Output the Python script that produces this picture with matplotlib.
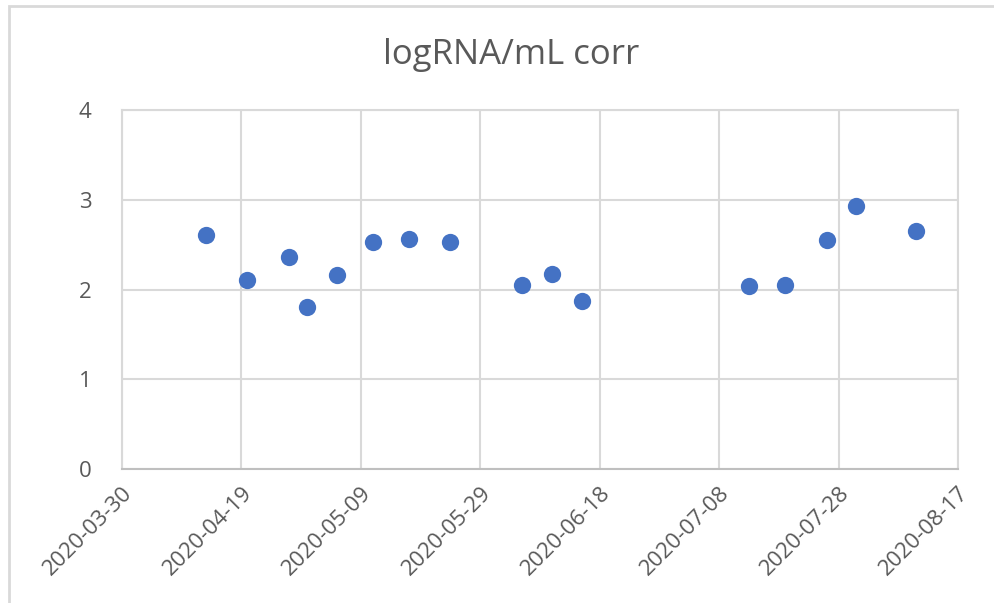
import matplotlib
matplotlib.use("Agg")
import matplotlib.pyplot as plt
import matplotlib.dates as mdates
from matplotlib.patches import Rectangle
import pandas as pd

dates = ["2020-04-13", "2020-04-20", "2020-04-27", "2020-04-30", "2020-05-05",
         "2020-05-11", "2020-05-17", "2020-05-24", "2020-06-05", "2020-06-10",
         "2020-06-15", "2020-07-13", "2020-07-19", "2020-07-26", "2020-07-31",
         "2020-08-10"]
log_rna = [2.61, 2.11, 2.36, 1.80, 2.16, 2.53, 2.56, 2.53, 2.05, 2.17,
           1.87, 2.04, 2.05, 2.55, 2.93, 2.65]
tick_dates = ["2020-03-30", "2020-04-19", "2020-05-09", "2020-05-29",
              "2020-06-18", "2020-07-08", "2020-07-28", "2020-08-17"]

x = pd.to_datetime(dates)
ticks = pd.to_datetime(tick_dates)

plt.rcParams['font.family'] = ['Open Sans', 'DejaVu Sans']
grey = "#595959"
grid = "#D9D9D9"

fig = plt.figure(figsize=(9.95, 6.03), dpi=100)
ax = fig.add_axes([0.1226, 0.2222, 0.9628 - 0.1226, 0.8176 - 0.2222])

ax.scatter(x, log_rna, s=155, color="#4472C4", zorder=3, linewidths=0)

ax.set_xlim(ticks[0], ticks[-1])
ax.set_ylim(0, 4)
ax.set_yticks([0, 1, 2, 3, 4])
ax.set_xticks(ticks)
ax.xaxis.set_major_formatter(mdates.DateFormatter("%Y-%m-%d"))
ax.grid(True, color=grid, linewidth=1.5, zorder=0)
for s in ax.spines.values():
    s.set_color(grid)
    s.set_linewidth(1.5)
ax.spines['bottom'].set_color("#BFBFBF")
ax.tick_params(length=0, colors=grey, labelsize=16)
ax.tick_params(axis='y', pad=22)
plt.setp(ax.get_xticklabels(), rotation=45, ha="right", rotation_mode="anchor")
ax.tick_params(axis='x', pad=10)

fig.text(0.514, 0.909, "logRNA/mL corr", ha="center", va="center",
         fontsize=25, color=grey)

fig.patches.append(Rectangle((9 / 995, -0.1), 1.2, 1 - 6 / 603 + 0.1,
                             transform=fig.transFigure, fill=False,
                             edgecolor=grid, linewidth=2))

fig.savefig("out.png", dpi=100)
